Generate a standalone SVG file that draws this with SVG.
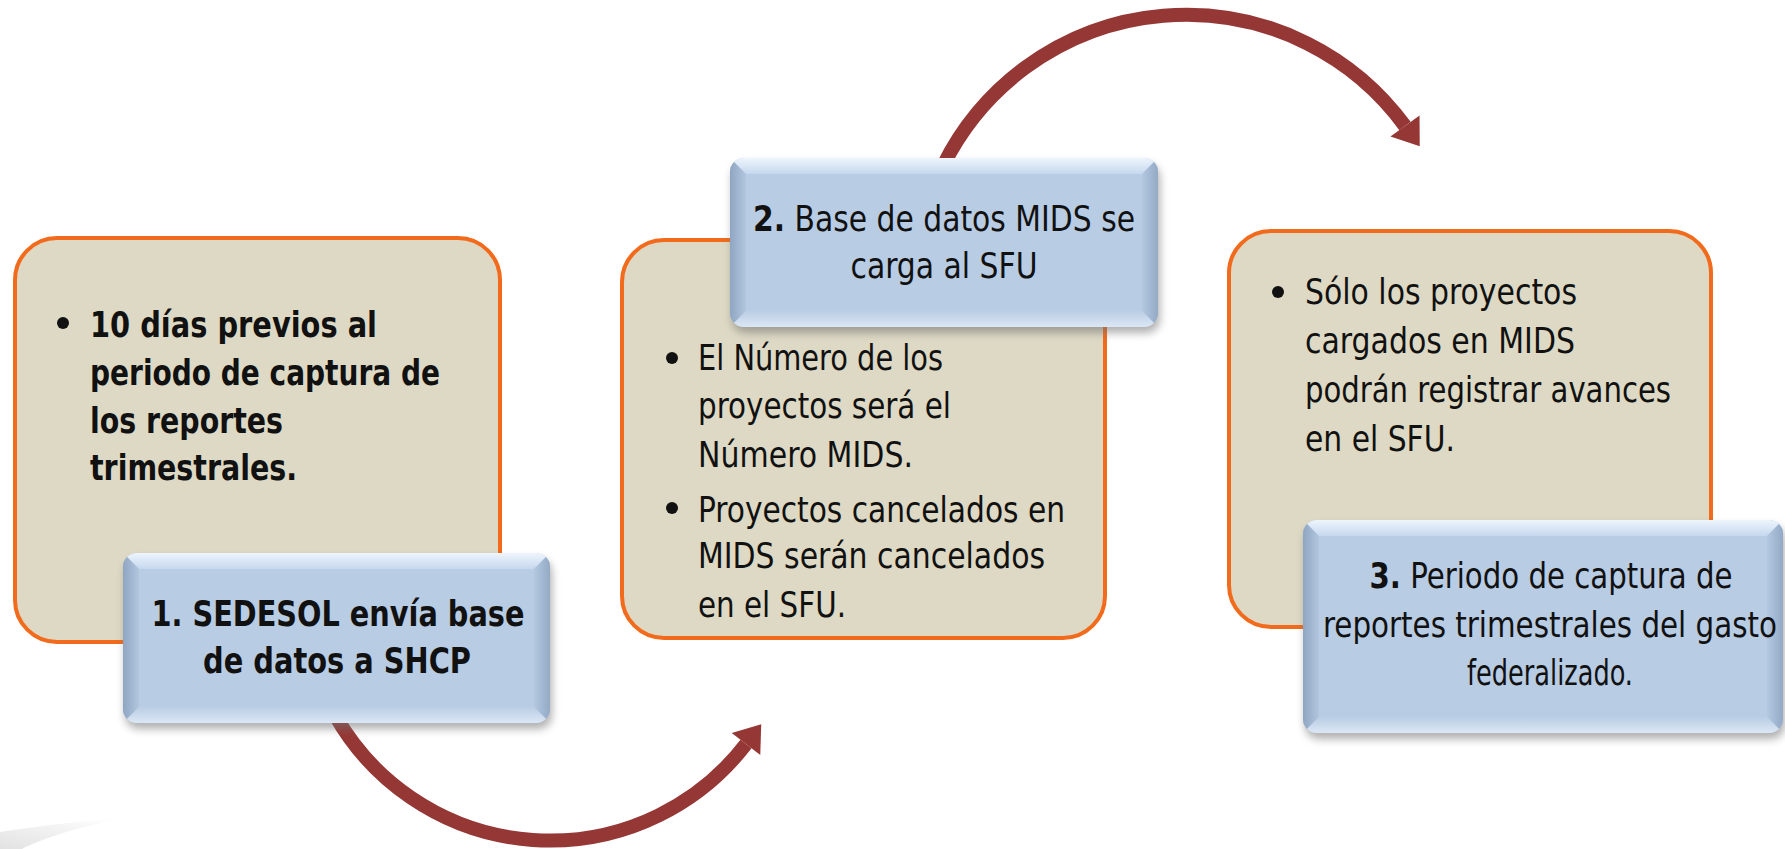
<svg xmlns="http://www.w3.org/2000/svg" width="1785" height="849" viewBox="0 0 1785 849">
<defs>
<style>
.tan{fill:#ddd9c4;stroke:#f26a1b;stroke-width:4}
.base{fill:#b8cce4}
.txt{font-family:"Liberation Sans Narrow","Arial Narrow","DejaVu Sans Condensed","Liberation Sans",sans-serif;font-size:35px;fill:#111}
.b{font-weight:bold}
.mid{text-anchor:middle}
.arc{fill:none;stroke:#953735;stroke-width:14}
.dot{fill:#111}
.shadow{fill:#6f6f6f;opacity:.55}
.bt{fill:url(#gTop)}
.bl{fill:url(#gLeft)}
.br{fill:url(#gRight)}
.bb{fill:url(#gBot)}
</style>
<linearGradient id="gTop" x1="0" y1="0" x2="0" y2="1"><stop offset="0" stop-color="#eef5fd"/><stop offset="1" stop-color="#c6d8ee"/></linearGradient>
<linearGradient id="gLeft" x1="0" y1="0" x2="1" y2="0"><stop offset="0" stop-color="#8fa5c1"/><stop offset="1" stop-color="#b2c6de"/></linearGradient>
<linearGradient id="gRight" x1="1" y1="0" x2="0" y2="0"><stop offset="0" stop-color="#93a9c5"/><stop offset="1" stop-color="#b4c8e0"/></linearGradient>
<linearGradient id="gBot" x1="0" y1="1" x2="0" y2="0"><stop offset="0" stop-color="#dbe7f5"/><stop offset="1" stop-color="#bacde4"/></linearGradient>
<linearGradient id="gSw" x1="0" y1="1" x2="1" y2="0"><stop offset="0" stop-color="#cfcfcf"/><stop offset="1" stop-color="#ffffff"/></linearGradient>
<filter id="blur" x="-10%" y="-10%" width="120%" height="130%"><feGaussianBlur stdDeviation="4"/></filter>
<marker id="ah" markerUnits="userSpaceOnUse" viewBox="-2 -20 30 40" markerWidth="30" markerHeight="40" refX="0" refY="0" orient="auto"><path d="M0,-18 L25,0 L0,18 Z" fill="#953735"/></marker>
<clipPath id="c1"><rect x="123" y="553" width="427" height="170" rx="14"/></clipPath>
<clipPath id="c2"><rect x="730" y="158" width="428" height="169" rx="14"/></clipPath>
<clipPath id="c3"><rect x="1303" y="520" width="480" height="213" rx="14"/></clipPath>
</defs>

<path d="M0,849 L0,832 C40,826 80,821 118,819 C80,827 40,839 22,849 Z" fill="url(#gSw)" opacity=".6"/>

<g id="connectors">
<path class="arc" d="M335,715 A247,247 0 0 0 746,744" marker-end="url(#ah)"/>
<path class="arc" d="M943.5,165 A271,271 0 0 1 1405,126" marker-end="url(#ah)"/>
</g>

<g id="node-info1">
<rect class="tan" x="15" y="238" width="485" height="404" rx="42"/>
<circle class="dot" cx="63" cy="323" r="6"/>
<text class="txt b" x="90" y="337" textLength="287" lengthAdjust="spacingAndGlyphs">10 días previos al</text>
<text class="txt b" x="90" y="385" textLength="350" lengthAdjust="spacingAndGlyphs">periodo de captura de</text>
<text class="txt b" x="90" y="433" textLength="193" lengthAdjust="spacingAndGlyphs">los reportes</text>
<text class="txt b" x="90" y="480" textLength="207" lengthAdjust="spacingAndGlyphs">trimestrales.</text>
</g>

<g id="node-step1">
<rect class="shadow" x="125" y="559" width="427" height="170" rx="14" filter="url(#blur)"/>
<rect class="base" x="123" y="553" width="427" height="170" rx="14"/>
<g clip-path="url(#c1)">
<polygon class="bt" points="123,553 550,553 534,569 139,569"/>
<polygon class="bl" points="123,553 139,569 139,707 123,723"/>
<polygon class="br" points="550,553 550,723 534,707 534,569"/>
<polygon class="bb" points="123,723 139,707 534,707 550,723"/>
</g>
<text class="txt b mid" x="338" y="626" textLength="373" lengthAdjust="spacingAndGlyphs">1. SEDESOL envía base</text>
<text class="txt b mid" x="337" y="673" textLength="268" lengthAdjust="spacingAndGlyphs">de datos a SHCP</text>
</g>

<g id="node-info2">
<rect class="tan" x="622" y="240" width="483" height="398" rx="42"/>
<circle class="dot" cx="672" cy="358" r="6"/>
<text class="txt" x="698" y="370" textLength="245" lengthAdjust="spacingAndGlyphs">El Número de los</text>
<text class="txt" x="698" y="418" textLength="253" lengthAdjust="spacingAndGlyphs">proyectos será el</text>
<text class="txt" x="698" y="467" textLength="215" lengthAdjust="spacingAndGlyphs">Número MIDS.</text>
<circle class="dot" cx="672" cy="508" r="6"/>
<text class="txt" x="698" y="522" textLength="367" lengthAdjust="spacingAndGlyphs">Proyectos cancelados en</text>
<text class="txt" x="698" y="568" textLength="347" lengthAdjust="spacingAndGlyphs">MIDS serán cancelados</text>
<text class="txt" x="698" y="617" textLength="148" lengthAdjust="spacingAndGlyphs">en el SFU.</text>
</g>

<g id="node-step2">
<rect class="shadow" x="732" y="164" width="428" height="169" rx="14" filter="url(#blur)"/>
<rect class="base" x="730" y="158" width="428" height="169" rx="14"/>
<g clip-path="url(#c2)">
<polygon class="bt" points="730,158 1158,158 1142,174 746,174"/>
<polygon class="bl" points="730,158 746,174 746,311 730,327"/>
<polygon class="br" points="1158,158 1158,327 1142,311 1142,174"/>
<polygon class="bb" points="730,327 746,311 1142,311 1158,327"/>
</g>
<text class="txt mid" x="944" y="231" textLength="382" lengthAdjust="spacingAndGlyphs"><tspan class="b">2.</tspan> Base de datos MIDS se</text>
<text class="txt mid" x="944" y="278" textLength="187" lengthAdjust="spacingAndGlyphs">carga al SFU</text>
</g>

<g id="node-info3">
<rect class="tan" x="1229" y="231" width="482" height="396" rx="42"/>
<circle class="dot" cx="1278" cy="292" r="6"/>
<text class="txt" x="1305" y="304" textLength="272" lengthAdjust="spacingAndGlyphs">Sólo los proyectos</text>
<text class="txt" x="1305" y="353" textLength="270" lengthAdjust="spacingAndGlyphs">cargados en MIDS</text>
<text class="txt" x="1305" y="402" textLength="366" lengthAdjust="spacingAndGlyphs">podrán registrar avances</text>
<text class="txt" x="1305" y="451" textLength="150" lengthAdjust="spacingAndGlyphs">en el SFU.</text>
</g>

<g id="node-step3">
<rect class="shadow" x="1305" y="526" width="480" height="213" rx="14" filter="url(#blur)"/>
<rect class="base" x="1303" y="520" width="480" height="213" rx="14"/>
<g clip-path="url(#c3)">
<polygon class="bt" points="1303,520 1783,520 1767,536 1319,536"/>
<polygon class="bl" points="1303,520 1319,536 1319,717 1303,733"/>
<polygon class="br" points="1783,520 1783,733 1767,717 1767,536"/>
<polygon class="bb" points="1303,733 1319,717 1767,717 1783,733"/>
</g>
<text class="txt mid" x="1551" y="588" textLength="363" lengthAdjust="spacingAndGlyphs"><tspan class="b">3.</tspan> Periodo de captura de</text>
<text class="txt mid" x="1550" y="637" textLength="454" lengthAdjust="spacingAndGlyphs">reportes trimestrales del gasto</text>
<text class="txt mid" x="1550" y="685" textLength="166" lengthAdjust="spacingAndGlyphs">federalizado.</text>
</g>
</svg>
